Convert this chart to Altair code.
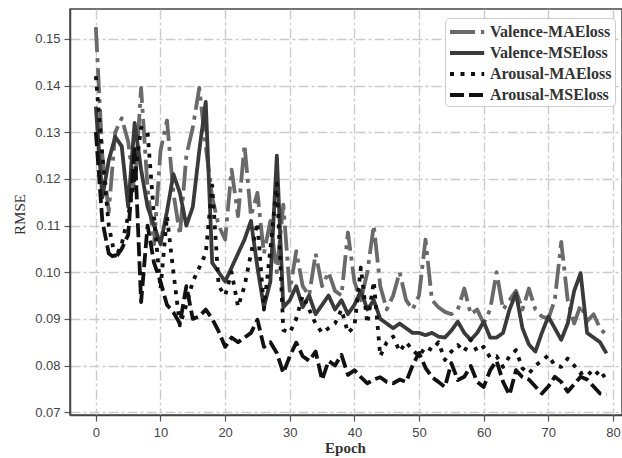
import altair as alt
import pandas as pd

epochs = list(range(80))

valence_mae = [0.1525, 0.125, 0.113, 0.130, 0.133, 0.128, 0.117, 0.1395, 0.118, 0.106,
               0.126, 0.1325, 0.117, 0.108, 0.125, 0.131, 0.1395, 0.127, 0.116, 0.110,
               0.107, 0.122, 0.112, 0.1273, 0.112, 0.117, 0.104, 0.111, 0.100, 0.1145,
               0.096, 0.1045, 0.097, 0.095, 0.104, 0.097, 0.100, 0.096, 0.095, 0.1085,
               0.098, 0.094, 0.100, 0.110, 0.097, 0.092, 0.095, 0.100, 0.094, 0.092,
               0.095, 0.107, 0.094, 0.0925, 0.0915, 0.091, 0.092, 0.0965, 0.091, 0.092,
               0.089, 0.092, 0.100, 0.092, 0.094, 0.096, 0.092, 0.0965, 0.092, 0.0905,
               0.090, 0.094, 0.1065, 0.094, 0.089, 0.093, 0.0895, 0.091, 0.088, 0.0865]

valence_mse = [0.1355, 0.116, 0.124, 0.129, 0.127, 0.114, 0.132, 0.122, 0.114, 0.110,
               0.106, 0.113, 0.121, 0.117, 0.110, 0.114, 0.126, 0.1365, 0.102, 0.100,
               0.098, 0.101, 0.104, 0.107, 0.111, 0.101, 0.0925, 0.098, 0.125, 0.0925,
               0.094, 0.097, 0.0925, 0.095, 0.091, 0.093, 0.095, 0.092, 0.094, 0.091,
               0.093, 0.096, 0.092, 0.094, 0.090, 0.089, 0.088, 0.089, 0.088, 0.087,
               0.087, 0.0865, 0.087, 0.0862, 0.086, 0.0875, 0.0894, 0.087, 0.0855, 0.087,
               0.0894, 0.086, 0.086, 0.087, 0.092, 0.0955, 0.088, 0.0845, 0.083, 0.087,
               0.0905, 0.088, 0.0855, 0.089, 0.096, 0.0998, 0.087, 0.086, 0.085, 0.0826]

arousal_mae = [0.142, 0.125, 0.110, 0.103, 0.106, 0.112, 0.120, 0.131, 0.130, 0.112,
               0.0964, 0.112, 0.100, 0.0886, 0.093, 0.098, 0.101, 0.104, 0.1186, 0.097,
               0.095, 0.100, 0.0926, 0.097, 0.104, 0.1106, 0.092, 0.105, 0.119, 0.0876,
               0.087, 0.090, 0.095, 0.092, 0.089, 0.087, 0.088, 0.089, 0.092, 0.087,
               0.0884, 0.101, 0.089, 0.098, 0.082, 0.085, 0.0862, 0.083, 0.085, 0.0833,
               0.082, 0.084, 0.0833, 0.085, 0.0812, 0.083, 0.0844, 0.083, 0.0855, 0.083,
               0.084, 0.0817, 0.082, 0.0797, 0.082, 0.0833, 0.0794, 0.0783, 0.080, 0.081,
               0.0822, 0.080, 0.0797, 0.0815, 0.080, 0.0783, 0.079, 0.0776, 0.079, 0.0769]

arousal_mse = [0.130, 0.111, 0.104, 0.103, 0.105, 0.108, 0.127, 0.0936, 0.110, 0.102,
               0.098, 0.093, 0.0914, 0.089, 0.097, 0.090, 0.0905, 0.092, 0.090, 0.0873,
               0.084, 0.086, 0.085, 0.086, 0.087, 0.0898, 0.084, 0.085, 0.0827, 0.0784,
               0.082, 0.0849, 0.082, 0.081, 0.083, 0.0769, 0.081, 0.080, 0.0823, 0.078,
               0.079, 0.0775, 0.0762, 0.077, 0.0775, 0.0765, 0.0762, 0.077, 0.0765, 0.080,
               0.0827, 0.0795, 0.0775, 0.0765, 0.0754, 0.0805, 0.0769, 0.0776, 0.0799, 0.0765,
               0.0754, 0.079, 0.081, 0.0765, 0.0737, 0.079, 0.0775, 0.077, 0.0755, 0.074,
               0.0755, 0.0776, 0.0765, 0.0744, 0.076, 0.0776, 0.077, 0.0755, 0.074, 0.0738]

series_names = ["Valence-MAEloss", "Valence-MSEloss", "Arousal-MAEloss", "Arousal-MSEloss"]
series_colors = ["#6a6a6a", "#3a3a3a", "#111111", "#111111"]
series_dashes = [[25, 6, 4, 6], [1, 0], [4, 6.5], [14, 5]]

rows = []
for name, vals in zip(series_names, [valence_mae, valence_mse, arousal_mae, arousal_mse]):
    for e, v in zip(epochs, vals):
        rows.append({"Epoch": e, "RMSE": v, "series": name})
df = pd.DataFrame(rows)

color_scale = alt.Scale(domain=series_names, range=series_colors)
dash_scale = alt.Scale(domain=series_names, range=series_dashes)

legend = alt.Legend(
    title=None,
    orient="none",
    legendX=375,
    legendY=9,
    symbolType="M-1,0H2.8",
    symbolSize=324,
    symbolStrokeWidth=4,
    labelFont="Liberation Serif",
    labelFontWeight="bold",
    labelFontSize=16,
    labelColor="#333333",
    labelLimit=300,
    labelOffset=20,
    rowPadding=2,
    padding=3,
    fillColor="white",
    strokeColor="#cccccc",
    cornerRadius=4,
)

base = alt.Chart(df)

layers = []
for i, name in enumerate(series_names):
    layers.append(
        base.transform_filter(alt.datum.series == name)
        .mark_line(strokeWidth=3.8, strokeCap="butt", strokeJoin="round", clip=True)
        .encode(
            x=alt.X(
                "Epoch:Q",
                scale=alt.Scale(domain=[-4.0, 81.4], nice=False, zero=False),
                axis=alt.Axis(
                    values=[0, 10, 20, 30, 40, 50, 60, 70, 80],
                    title="Epoch",
                    titleFont="Liberation Serif",
                    titleFontWeight="bold",
                    titleFontSize=15,
                    titleColor="#333333",
                    titleX=275,
                    titleY=37,
                    titleBaseline="alphabetic",
                    labelFont="Liberation Sans",
                    labelFontSize=13,
                    labelColor="#444444",
                    labelPadding=5,
                    tickSize=6,
                    tickColor="#555555",
                    tickWidth=1.2,
                    domainColor="#444444",
                    domainWidth=1.5,
                    grid=True,
                    gridColor="#cccccc",
                    gridWidth=1.4,
                    gridDash=[10, 3, 3, 3],
                ),
            ),
            y=alt.Y(
                "RMSE:Q",
                scale=alt.Scale(domain=[0.0694, 0.1564], nice=False, zero=False),
                axis=alt.Axis(
                    values=[0.07, 0.08, 0.09, 0.10, 0.11, 0.12, 0.13, 0.14, 0.15],
                    format=".2f",
                    title="RMSE",
                    titleFont="Liberation Serif",
                    titleFontWeight="normal",
                    titleFontSize=15,
                    titleColor="#333333",
                    titleX=-51,
                    titleY=205,
                    titleAngle=270,
                    titleBaseline="middle",
                    labelFont="Liberation Sans",
                    labelFontSize=13,
                    labelColor="#444444",
                    labelPadding=4,
                    tickSize=6,
                    tickColor="#555555",
                    tickWidth=1.2,
                    domainColor="#444444",
                    domainWidth=1.5,
                    grid=True,
                    gridColor="#cccccc",
                    gridWidth=1.4,
                    gridDash=[10, 3, 3, 3],
                ),
            ),
            color=alt.Color("series:N", scale=color_scale, legend=legend),
            strokeDash=alt.StrokeDash("series:N", scale=dash_scale, legend=legend),
            order="Epoch:Q",
        )
    )

chart = (
    alt.layer(*layers)
    .properties(
        width=552,
        height=406,
        autosize=alt.AutoSizeParams(type="none"),
        padding={"left": 70, "top": 9, "right": 0, "bottom": 43},
        background="white",
    )
    .configure_view(stroke="#444444", strokeWidth=1.5)
)

chart.save("out.html", embed_options={"renderer": "svg", "actions": False})
